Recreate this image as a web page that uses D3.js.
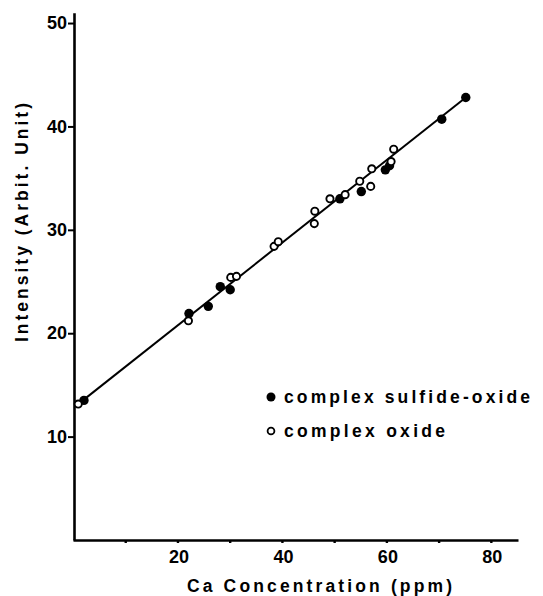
<!DOCTYPE html>
<html>
<head>
<meta charset="utf-8">
<script src="https://cdn.jsdelivr.net/npm/d3@7/dist/d3.min.js"></script>
<style>
  html, body { margin: 0; padding: 0; background: #fff; }
  svg { display: block; }
  text { font-family: "Liberation Sans", Arial, sans-serif; font-weight: bold; fill: #000; }
</style>
</head>
<body>
<script>
// ---- data ----
const sulfideX = [2.1, 22.2, 25.9, 28.2, 30.1, 51.1, 55.2, 59.8, 60.6, 70.6, 75.2];
const sulfideY = [13.5, 21.9, 22.6, 24.5, 24.2, 33.0, 33.7, 35.8, 36.2, 40.7, 42.8];
const oxideX = [1.0, 22.1, 30.2, 31.3, 38.5, 39.3, 46.2, 46.3, 49.2, 52.1, 54.9, 57.0, 57.2, 60.9, 61.4];
const oxideY = [13.15, 21.2, 25.4, 25.5, 28.4, 28.85, 30.6, 31.8, 33.0, 33.4, 34.7, 34.2, 35.9, 36.6, 37.8];
const fitX = [0.5, 75.2];
const fitY = [12.95, 42.8];
const xTicks = [10, 20, 30, 40, 50, 60, 70, 80];
const xTickLabels = [20, 40, 60, 80];
const yTicks = [10, 20, 30, 40, 50];
const legendLabels = ["complex sulfide-oxide", "complex oxide"];
const xTitle = "Ca Concentration (ppm)";
const yTitle = "Intensity (Arbit. Unit)";

const W = 543, H = 596;
const svg = d3.select("body").append("svg").attr("width", W).attr("height", H);

const x = d3.scaleLinear().domain([0, 85.2]).range([73, 518]);
const y = d3.scaleLinear().domain([0, 51]).range([540, 12.7]);

// axes
const xAxis = d3.axisBottom(x).tickValues(xTicks).tickSize(3).tickSizeOuter(0)
  .tickFormat(d => xTickLabels.includes(d) ? d : "");
const gx = svg.append("g").attr("transform", `translate(0,${y(0)})`).call(xAxis);
gx.select(".domain").attr("stroke-width", 2.6);
gx.selectAll(".tick line").attr("stroke-width", 2.4);
gx.selectAll(".tick text").attr("font-size", 18).attr("font-family", "Liberation Sans, Arial, sans-serif")
  .attr("font-weight", "bold").attr("dy", "0.95em").attr("dx", 1);

const yAxis = d3.axisLeft(y).tickValues(yTicks).tickSize(6).tickSizeOuter(0).tickPadding(1);
const gy = svg.append("g").attr("transform", `translate(${x(0) + 1},0)`).call(yAxis);
gy.select(".domain").attr("stroke-width", 2.6);
gy.selectAll(".tick line").attr("stroke-width", 2);
gy.selectAll(".tick text").attr("font-size", 18).attr("font-family", "Liberation Sans, Arial, sans-serif")
  .attr("font-weight", "bold");

// fit line
const fit = fitX.map((d, i) => [d, fitY[i]]);
svg.append("path").datum(fit)
  .attr("d", d3.line().x(d => x(d[0])).y(d => y(d[1])))
  .attr("stroke", "#000").attr("stroke-width", 2).attr("fill", "none");

// points
const sulf = sulfideX.map((d, i) => [d, sulfideY[i]]);
const oxi = oxideX.map((d, i) => [d, oxideY[i]]);
svg.append("g").selectAll("circle").data(sulf).join("circle")
  .attr("cx", d => x(d[0])).attr("cy", d => y(d[1])).attr("r", 4.7).attr("fill", "#000");
svg.append("g").selectAll("circle").data(oxi).join("circle")
  .attr("cx", d => x(d[0])).attr("cy", d => y(d[1])).attr("r", 3.6)
  .attr("fill", "#fff").attr("stroke", "#000").attr("stroke-width", 1.9);

// legend
const lg = svg.append("g");
lg.append("circle").attr("cx", 271).attr("cy", 397).attr("r", 4.5).attr("fill", "#000");
lg.append("circle").attr("cx", 271).attr("cy", 431).attr("r", 3.4).attr("fill", "#fff")
  .attr("stroke", "#000").attr("stroke-width", 1.8);
lg.append("text").attr("x", 284).attr("y", 403).attr("font-size", 17.5)
  .attr("textLength", 246).attr("lengthAdjust", "spacing").text(legendLabels[0]);
lg.append("text").attr("x", 284).attr("y", 437).attr("font-size", 17.5)
  .attr("textLength", 161).attr("lengthAdjust", "spacing").text(legendLabels[1]);

// titles
svg.append("text").attr("x", 187).attr("y", 592).attr("font-size", 17.5)
  .attr("textLength", 265).attr("lengthAdjust", "spacing").text(xTitle);
svg.append("text").attr("transform", "translate(28,342) rotate(-90)").attr("font-size", 17.5)
  .attr("textLength", 239).attr("lengthAdjust", "spacing").text(yTitle);
</script>
</body>
</html>
